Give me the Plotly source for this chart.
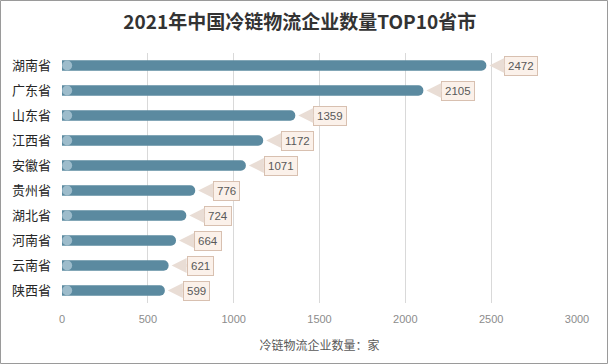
import plotly.graph_objects as go

provinces = ["湖南省", "广东省", "山东省", "江西省", "安徽省", "贵州省", "湖北省", "河南省", "云南省", "陕西省"]
counts = [2472, 2105, 1359, 1172, 1071, 776, 724, 664, 621, 599]
tick_vals = [0, 500, 1000, 1500, 2000, 2500, 3000]
title_text = "2021年中国冷链物流企业数量TOP10省市"
x_title = "冷链物流企业数量：家"

W, H = 608, 364
ML, MR, MT, MB = 62, 31, 53, 61
PW, PH = W - ML - MR, H - MT - MB

fig = go.Figure()
fig.add_trace(go.Bar(
    y=provinces, x=counts, orientation="h",
    marker=dict(color="#5b8aa0", line=dict(width=0), cornerradius=5),
    width=0.42, hoverinfo="x+y",
))
# light round base caps
fig.add_trace(go.Scatter(
    y=provinces, x=[30] * len(provinces), mode="markers",
    marker=dict(color="#9dbccb", size=10, symbol="circle", line=dict(width=0)),
    hoverinfo="skip", cliponaxis=False,
))

for p, v in zip(provinces, counts):
    fig.add_annotation(
        x=v, y=p, xref="x", yref="y",
        text=str(v), showarrow=True, ax=18, ay=0,
        xanchor="left", yanchor="middle",
        arrowhead=2, arrowsize=1.0, arrowwidth=3, arrowcolor="#e9ddd5",
        standoff=3,
        font=dict(family="Liberation Sans, Arial", size=11.5, color="#595959"),
        bgcolor="#fbf1ea", bordercolor="#d8c0b0", borderwidth=1, borderpad=3,
    )

# outer frame
fig.add_shape(type="rect", xref="paper", yref="paper",
              x0=(0.5 - ML) / PW, x1=(W - 0.5 - ML) / PW,
              y0=-(H - 0.5 - MT - PH) / PH, y1=(MT - 0.5) / PH + 1,
              line=dict(color="#9a9a9a", width=1), fillcolor="rgba(0,0,0,0)", layer="below")

fig.update_layout(
    width=W, height=H,
    margin=dict(l=ML, r=MR, t=MT, b=MB),
    plot_bgcolor="white", paper_bgcolor="white",
    showlegend=False, bargap=0.5,
    title=dict(text="<b>" + title_text + "</b>", x=0.493, xref="container", xanchor="center",
               y=1 - 22 / H, yanchor="middle",
               font=dict(family="Noto Sans CJK SC", size=19, color="#333333")),
    xaxis=dict(range=[0, 3000], tickvals=tick_vals, showgrid=True, gridcolor="#d9d9d9", gridwidth=1,
               zeroline=False, showline=False, ticks="", ticklabelstandoff=8,
               tickfont=dict(family="Liberation Sans, Arial", size=11, color="#8c8c8c"),
               title=dict(text=x_title, standoff=17,
                          font=dict(family="Noto Sans CJK SC", size=12, color="#595959"))),
    yaxis=dict(categoryorder="array", categoryarray=provinces[::-1], range=[-0.5, 9.5],
               showgrid=False, zeroline=False, ticks="", ticklabelstandoff=10,
               tickfont=dict(family="Noto Sans CJK SC", size=13, color="#262626")),
)

fig.write_html("out.html", config={"displayModeBar": False},
               post_script="document.body.style.margin='0';")
